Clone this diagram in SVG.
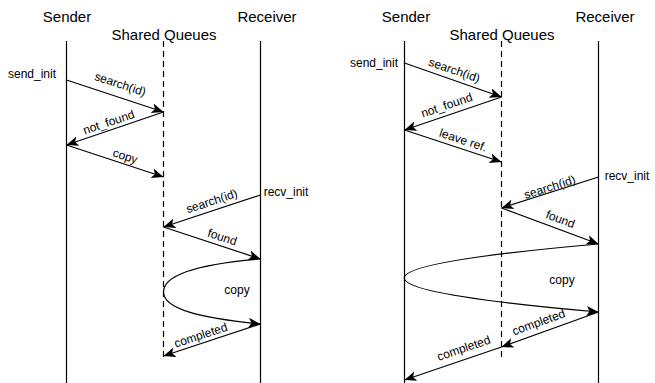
<svg xmlns="http://www.w3.org/2000/svg" width="655" height="383" viewBox="0 0 655 383">
<style>
.title{font-family:"Liberation Sans",Arial,sans-serif;font-size:15px;fill:#000;text-anchor:middle}
.lbl{font-family:"Liberation Sans",Arial,sans-serif;font-size:12px;fill:#000;text-anchor:middle}
.life{stroke:#000;stroke-width:1.2;fill:none}
.dash{stroke:#000;stroke-width:1.2;fill:none;stroke-dasharray:6 4}
.msg{stroke:#000;stroke-width:1.2;fill:none;marker-end:url(#ah)}
</style>
<defs>
<marker id="ah" markerUnits="userSpaceOnUse" markerWidth="14" markerHeight="12" refX="12" refY="5" orient="auto">
<path d="M0,0 L12,5 L0,10 L3,5 z" fill="#000"/>
</marker>
</defs>
<rect width="655" height="383" fill="#fff"/>
<g id="left-sender"><text class="title" x="67" y="22">Sender</text><line class="life" x1="66.5" y1="41" x2="66.5" y2="383"/></g>
<g id="left-shared"><text class="title" x="164" y="40">Shared Queues</text><line class="dash" x1="163.5" y1="41" x2="163.5" y2="359"/></g>
<g id="left-receiver"><text class="title" x="267" y="22">Receiver</text><line class="life" x1="260.5" y1="41" x2="260.5" y2="383"/></g>
<g id="left-send-init"><text class="lbl" x="32" y="78">send_init</text></g>
<g id="left-recv-init"><text class="lbl" x="286" y="196">recv_init</text></g>
<g id="right-sender"><text class="title" x="406" y="22">Sender</text><line class="life" x1="404.5" y1="41" x2="404.5" y2="383"/></g>
<g id="right-shared"><text class="title" x="502" y="40">Shared Queues</text><line class="dash" x1="501.5" y1="41" x2="501.5" y2="359"/></g>
<g id="right-receiver"><text class="title" x="605" y="22">Receiver</text><line class="life" x1="598.5" y1="41" x2="598.5" y2="383"/></g>
<g id="right-send-init"><text class="lbl" x="374" y="67">send_init</text></g>
<g id="right-recv-init"><text class="lbl" x="627" y="180">recv_init</text></g>
<g id="connectors">
<path class="msg" d="M66.5,80 L163.5,112"/>
<path class="msg" d="M163.5,112 L66.5,145"/>
<path class="msg" d="M66.5,145 L163.5,177"/>
<path class="msg" d="M260.5,195 L163.5,227"/>
<path class="msg" d="M163.5,227 L260.5,259"/>
<path class="msg" d="M260.5,259 C200,264 163.5,274 163.5,292 C163.5,309 200,318 260.5,324"/>
<path class="msg" d="M260.5,324 L163.5,356"/>
<path class="msg" d="M404.5,63 L501.5,97"/>
<path class="msg" d="M501.5,97 L404.5,130"/>
<path class="msg" d="M404.5,130 L501.5,162"/>
<path class="msg" d="M598.5,177 L501.5,208"/>
<path class="msg" d="M501.5,208 L598.5,244"/>
<path class="msg" d="M598.5,244 Q210,278 598.5,312"/>
<path class="msg" d="M598.5,312 L501.5,347"/>
<path class="msg" d="M501.5,347 L404.5,380"/>
<text class="lbl" transform="translate(119,88) rotate(18.3)">search(id)</text>
<text class="lbl" transform="translate(110,126) rotate(-18.5)">not_found</text>
<text class="lbl" transform="translate(124,160) rotate(18.3)">copy</text>
<text class="lbl" transform="translate(213,205) rotate(-18.3)">search(id)</text>
<text class="lbl" transform="translate(221,241) rotate(18.3)">found</text>
<text class="lbl" x="237" y="294">copy</text>
<text class="lbl" transform="translate(202,339) rotate(-18.3)">completed</text>
<text class="lbl" transform="translate(453,74) rotate(19)">search(id)</text>
<text class="lbl" transform="translate(448,109) rotate(-18.8)">not_found</text>
<text class="lbl" transform="translate(462,144) rotate(18.3)">leave ref.</text>
<text class="lbl" transform="translate(551,191) rotate(-17.7)">search(id)</text>
<text class="lbl" transform="translate(559,223) rotate(20.4)">found</text>
<text class="lbl" x="562" y="284">copy</text>
<text class="lbl" transform="translate(540,326) rotate(-19.8)">completed</text>
<text class="lbl" transform="translate(465,352) rotate(-18.8)">completed</text>
</g>
</svg>
